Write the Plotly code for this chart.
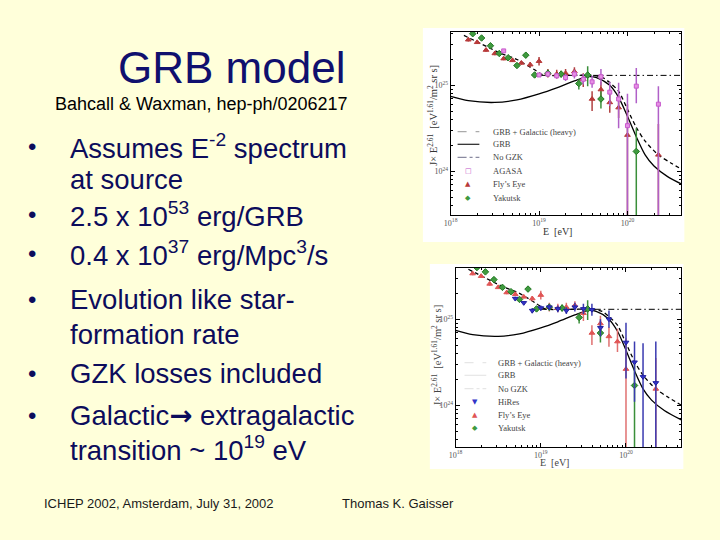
import numpy as np
import plotly.graph_objects as go

W, H = 720, 540
def px(x): return x / W
def py(y): return 1 - y / H

# ---------------- data (log10 E [eV], log10 J*E^2.61) ----------------
grb_logE = [18.0, 18.2, 18.5, 18.75, 19.0, 19.2, 19.4, 19.55, 19.65, 19.8, 19.9, 20.0, 20.1, 20.2, 20.3, 20.45, 20.65]
grb_logJ = [24.87, 24.82, 24.80, 24.83, 24.90, 24.97, 25.05, 25.10, 25.09, 25.00, 24.86, 24.64, 24.40, 24.19, 24.06, 23.94, 23.83]

gal_logE = [18.15, 18.35, 18.55, 18.75, 18.95, 19.05, 19.3, 19.6, 19.72, 19.8, 19.9, 20.0, 20.1, 20.2, 20.35, 20.5, 20.65]
gal_logJ = [25.58, 25.48, 25.38, 25.30, 25.18, 25.12, 25.115, 25.115, 25.09, 25.03, 24.93, 24.72, 24.51, 24.35, 24.19, 24.09, 24.00]

nogzk_logE = [19.0, 20.65]
nogzk_logJ = [25.115, 25.115]

fly_logE = [18.2, 18.3, 18.4, 18.5, 18.6, 18.7, 18.8, 18.9, 19.0, 19.1, 19.2, 19.3, 19.4, 19.5, 19.6, 19.7, 19.8, 19.9, 20.0, 20.35]
fly_logJ = [25.53, 25.50, 25.41, 25.37, 25.31, 25.29, 25.26, 25.24, 25.28, 25.14, 25.13, 25.14, 25.16, 25.07, 24.84, 24.95, 24.80, 24.74, 24.42, 24.19]
fly_lo   = [25.51, 25.48, 25.39, 25.35, 25.29, 25.27, 25.24, 25.21, 25.23, 25.09, 25.08, 25.09, 25.11, 24.98, 24.70, 24.83, 24.68, 24.62, 23.30, 23.30]
fly_hi   = [25.55, 25.52, 25.43, 25.39, 25.33, 25.31, 25.28, 25.27, 25.33, 25.19, 25.18, 25.19, 25.21, 25.14, 24.93, 25.04, 24.91, 24.89, 24.78, 24.55]

aga_logE = [18.6, 19.0, 19.1, 19.2, 19.3, 19.4, 19.5, 19.6, 19.7, 19.8, 19.9, 20.0, 20.1, 20.35]
aga_logJ = [25.40, 25.12, 25.13, 25.11, 25.09, 25.13, 25.07, 25.04, 25.10, 24.92, 24.84, 24.53, 24.99, 24.78]
aga_lo   = [25.38, 25.10, 25.10, 25.08, 25.05, 25.08, 25.01, 24.97, 25.00, 24.76, 24.50, 23.30, 24.79, 23.30]
aga_hi   = [25.42, 25.14, 25.16, 25.14, 25.13, 25.18, 25.13, 25.11, 25.19, 25.04, 25.03, 24.90, 25.20, 24.99]

yak_logE = [18.25, 18.35, 18.45, 18.55, 18.65, 18.75, 18.85, 18.95, 19.1, 19.25, 19.45, 19.55, 19.7, 20.1]
yak_logJ = [25.60, 25.55, 25.46, 25.37, 25.32, 25.23, 25.35, 25.12, 25.14, 25.13, 25.02, 25.12, 24.84, 24.23]
yak_lo   = [25.58, 25.53, 25.44, 25.35, 25.30, 25.21, 25.32, 25.09, 25.10, 25.09, 24.95, 24.99, 24.73, 23.30]
yak_hi   = [25.62, 25.57, 25.48, 25.39, 25.34, 25.25, 25.38, 25.15, 25.18, 25.17, 25.07, 25.22, 24.93, 24.50]

hir_logE = [18.7, 18.8, 18.9, 19.0, 19.1, 19.2, 19.3, 19.4, 19.5, 19.6, 19.7, 19.8, 20.0, 20.1, 20.2, 20.35]
hir_logJ = [25.24, 25.19, 25.10, 25.13, 25.14, 25.12, 25.10, 25.14, 25.12, 25.11, 24.90, 25.00, 24.73, 24.50, 24.33, 24.26]
hir_lo   = [25.22, 25.17, 25.07, 25.10, 25.11, 25.08, 25.06, 25.09, 25.06, 25.04, 24.80, 24.90, 24.31, 24.04, 23.30, 23.30]
hir_hi   = [25.26, 25.21, 25.13, 25.16, 25.17, 25.16, 25.14, 25.19, 25.18, 25.18, 25.00, 25.10, 24.96, 24.74, 24.72, 24.74]

x_tickvals = [1e18, 1e19, 1e20]
x_ticktext = ["10<sup>18</sup>", "10<sup>19</sup>", "10<sup>20</sup>"]
y_tickvals = [1e24, 1e25]
y_ticktext = ["10<sup>24</sup>", "10<sup>25</sup>"]

top_legend = ["GRB + Galactic (heavy)", "GRB", "No GZK", "AGASA", "Fly\u2019s Eye", "Yakutsk"]
bot_legend = ["GRB + Galactic (heavy)", "GRB", "No GZK", "HiRes", "Fly\u2019s Eye", "Yakutsk"]

ARROW = "<span style='font-family:DejaVu Sans;font-weight:bold'>\u2192</span>"
bullets = [
    ["Assumes E<sup>-2</sup> spectrum", "at source"],
    ["2.5 x 10<sup>53</sup> erg/GRB"],
    ["0.4 x 10<sup>37</sup> erg/Mpc<sup>3</sup>/s"],
    ["Evolution like star-", "formation rate"],
    ["GZK losses included"],
    ["Galactic" + ARROW + " extragalactic", "transition ~ 10<sup>19</sup> eV"],
]

# ---------------- figure ----------------
BG = "#FFFFDA"
NAVY = "#0c0c5c"
SERIF = "Liberation Serif, DejaVu Serif, serif"
SANS = "Liberation Sans, Arial, sans-serif"

fig = go.Figure()

def add_curve(logE, logJ, dash, color, width, xa, ya):
    fig.add_trace(go.Scatter(
        x=10 ** np.array(logE), y=10 ** np.array(logJ), mode="lines",
        line=dict(color=color, width=width, dash=dash, shape="spline", smoothing=0.8),
        xaxis=xa, yaxis=ya, showlegend=False, hoverinfo="skip"))

def add_data(logE, logJ, lo, hi, symbol, size, mcolor, lcolor, ecolor, xa, ya):
    y = 10 ** np.array(logJ)
    fig.add_trace(go.Scatter(
        x=10 ** np.array(logE), y=y, mode="markers",
        marker=dict(symbol=symbol, size=size, color=mcolor, line=dict(color=lcolor, width=1)),
        error_y=dict(type="data", symmetric=False,
                     array=10 ** np.array(hi) - y, arrayminus=y - 10 ** np.array(lo),
                     color=ecolor, thickness=1.5, width=0),
        xaxis=xa, yaxis=ya, showlegend=False, cliponaxis=True))

for xa, ya, red, redl in [("x", "y", "#b83a3a", "#b04040"), ("x2", "y2", "#e05555", "#e07070")]:
    add_curve(grb_logE, grb_logJ, "solid", "black", 1.3, xa, ya)
    add_curve(gal_logE, gal_logJ, "4px,3px", "black", 1.3, xa, ya)
    add_curve(nogzk_logE, nogzk_logJ, "6px,3px,1.5px,3px", "black", 1.0, xa, ya)
    add_data(fly_logE, fly_logJ, fly_lo, fly_hi, "triangle-up", 5, red, red, redl, xa, ya)
    add_data(yak_logE, yak_logJ, yak_lo, yak_hi, "diamond", 5, "#3f9a3f", "#237a23", "#3a8f3a", xa, ya)

add_data(aga_logE, aga_logJ, aga_lo, aga_hi, "square", 4, "#e590e5", "#c858cc", "#b060c8", "x", "y")
add_data(hir_logE, hir_logJ, hir_lo, hir_hi, "triangle-down", 5, "#3434c8", "#2020a0", "#3a3ab0", "x2", "y2")

def minor_vals(lo, hi):
    vals = []
    for d in range(lo, hi + 1):
        for k in range(2, 10):
            vals.append(k * 10.0 ** d)
    return vals

def xaxis_cfg(dom, rng):
    return dict(type="log", domain=dom, range=rng, showline=True, linecolor="black", linewidth=1,
                mirror="ticks", ticks="inside", ticklen=4, tickcolor="black",
                tickvals=x_tickvals, ticktext=x_ticktext,
                tickfont=dict(family=SERIF, size=8, color="#555"),
                minor=dict(ticks="inside", ticklen=2, tickcolor="black", tickvals=minor_vals(18, 20)),
                showgrid=False, zeroline=False)

def yaxis_cfg(dom, rng, anchor):
    return dict(type="log", domain=dom, range=rng, anchor=anchor, showline=True, linecolor="black",
                linewidth=1, mirror="ticks", ticks="inside", ticklen=4, tickcolor="black",
                tickvals=y_tickvals, ticktext=y_ticktext,
                tickfont=dict(family=SERIF, size=8, color="#555"),
                minor=dict(ticks="inside", ticklen=2, tickcolor="black", tickvals=minor_vals(23, 25)),
                showgrid=False, zeroline=False)

shapes = [
    dict(type="rect", xref="paper", yref="paper", x0=px(420), x1=px(684), y0=py(242), y1=py(28),
         fillcolor="white", line=dict(width=0), layer="below"),
    dict(type="rect", xref="paper", yref="paper", x0=px(427), x1=px(683), y0=py(469), y1=py(264),
         fillcolor="white", line=dict(width=0), layer="below"),
]

annotations = []
def text(x, y, s, size, color, family=SANS, xanchor="left", yanchor="middle", angle=0):
    annotations.append(dict(x=px(x), y=py(y), xref="paper", yref="paper", text=s, showarrow=False,
                            xanchor=xanchor, yanchor=yanchor, textangle=angle, borderpad=0,
                            font=dict(size=size, color=color, family=family)))

# title
text(227, 67, "GRB model", 44, "#10106e", xanchor="center")
text(196, 104, "Bahcall &amp; Waxman, hep-ph/0206217", 18, "black", xanchor="center")

# bullets
line_y = [[147, 180], [214], [253], [299, 334], [374], [415, 448]]
for lines, ys in zip(bullets, line_y):
    text(20, ys[0], "\u2022", 24, NAVY)
    for s, yy in zip(lines, ys):
        text(63, yy, s, 27.5, NAVY)

# footer
text(36, 503, "ICHEP 2002, Amsterdam, July 31, 2002", 13, "#1a1a1a")
text(337, 503, "Thomas K. Gaisser", 13, "#1a1a1a")

# axis titles
ytitle = "J\u00d7 E<sup>2.61</sup>  [eV<sup>1.61</sup>/m<sup>2</sup> sr s]"
text(429, 115, ytitle, 10.5, "#333", family=SERIF, xanchor="center", angle=-90)
text(433, 355, ytitle, 10.5, "#444", family=SERIF, xanchor="center", angle=-90)
text(556, 231, "E  [eV]", 10, "#333", family=SERIF, xanchor="center")
text(553, 462, "E  [eV]", 10, "#444", family=SERIF, xanchor="center")

# legends
top_rows = [131.7, 144.3, 157.3, 170.7, 184.3, 197.7]
bot_rows = [362.7, 375.3, 388.7, 402.0, 414.7, 427.7]
for labels, rows, lx0, tx, lcol, syms in [
    (top_legend, top_rows, 455, 490, ["#aaaaaa", "#222222", "#8a8aa0"],
     [("\u25a1", "#c050c8"), ("\u25b2", "#b83a3a"), ("\u25c6", "#3f9a3f")]),
    (bot_legend, bot_rows, 462, 495, ["#e6e6e6", "#e6e6e6", "#e6e6e6"],
     [("\u25bc", "#3434c8"), ("\u25b2", "#e05555"), ("\u25c6", "#3f9a3f")]),
]:
    dashes = ["dash", "solid", "dashdot"]
    for i in range(3):
        shapes.append(dict(type="line", xref="paper", yref="paper", x0=px(lx0), x1=px(lx0 + 22),
                           y0=py(rows[i]), y1=py(rows[i]), line=dict(color=lcol[i], width=1.2, dash=dashes[i])))
    for i, (sym, col) in enumerate(syms):
        text(lx0 + 11, rows[3 + i], sym, 7, col, family="DejaVu Sans", xanchor="center")
    for lab, yy in zip(labels, rows):
        text(tx, yy, lab, 8.5, "#444", family=SERIF)

fig.update_layout(
    width=W, height=H, margin=dict(l=0, r=0, t=0, b=0),
    paper_bgcolor=BG, plot_bgcolor="white", hovermode=False,
    xaxis=xaxis_cfg([px(448), px(681)], [18, 20.61]),
    yaxis=yaxis_cfg([py(215), py(32)], [23.49, 25.62], "x"),
    xaxis2=xaxis_cfg([px(453), px(681)], [18, 20.65]) | dict(anchor="y2"),
    yaxis2=yaxis_cfg([py(447), py(268)], [23.515, 25.595], "x2"),
    shapes=shapes, annotations=annotations, showlegend=False,
)

fig.write_html("out.html", config={"displayModeBar": False},
               post_script="document.body.style.margin='0';document.body.style.overflow='hidden';")
